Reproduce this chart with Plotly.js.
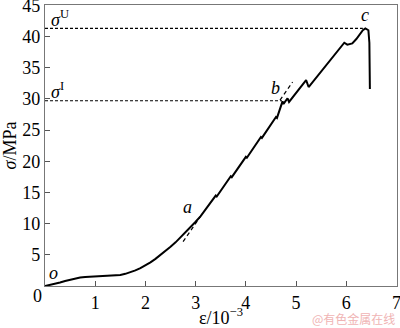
<!DOCTYPE html>
<html>
<head>
<meta charset="utf-8">
<script src="https://cdn.plot.ly/plotly-3.0.1.min.js"></script>
<style>html,body{margin:0;padding:0;background:#fff;}#chart{width:400px;height:328px;}</style>
</head>
<body>
<div id="chart"></div>
<script>
// Stress-strain curve (strain in 10^-3, stress in MPa)
const strain = [0, 0.1, 0.2, 0.3, 0.4, 0.5, 0.6, 0.7, 0.8, 0.9, 1.0, 1.1, 1.2, 1.3, 1.4, 1.5, 1.6, 1.7, 1.8, 1.9,
  2.0, 2.1, 2.2, 2.3, 2.4, 2.5, 2.6, 2.7, 2.8, 2.9, 3.0, 3.1,
  3.25, 3.4, 3.42, 3.55, 3.7, 3.72, 3.85, 4.0, 4.02, 4.15, 4.3, 4.32, 4.45, 4.6, 4.62, 4.7,
  4.73, 4.75, 4.83, 4.86, 5.2, 5.25, 5.96, 6.02, 6.12, 6.2, 6.33, 6.38, 6.44, 6.46, 6.47];
const stress = [0, 0.15, 0.35, 0.55, 0.8, 1.0, 1.2, 1.35, 1.45, 1.5, 1.55, 1.6, 1.62, 1.62, 1.65, 1.75, 1.95, 2.2, 2.5, 2.85,
  3.3, 3.8, 4.35, 4.95, 5.6, 6.3, 7.0, 7.8, 8.6, 9.45, 10.3, 11.2,
  12.8, 14.5, 14.35, 15.9, 17.6, 17.45, 19.0, 20.7, 20.55, 22.1, 23.9, 23.75, 25.3, 27.1, 26.95, 28.9,
  29.6, 29.2, 30.1, 29.5, 33.0, 31.9, 39.0, 38.7, 38.9, 39.6, 41.0, 41.3, 41.0, 39.0, 31.6];
// characteristic stresses
const sigmaU = 41.3;
const sigmaI = 29.7;
const sigmaUEnd = 6.33;
const sigmaIEnd = 4.72;
// tangent (dashed) segments
const tanA_x = [2.75, 3.1];
const tanA_y = [7.1, 11.2];
const tanB_x = [4.68, 4.93];
const tanB_y = [29.8, 32.7];
// ticks
const xTicks = [1, 2, 3, 4, 5, 6, 7];
const yTicks = [5, 10, 15, 20, 25, 30, 35, 40, 45];

const serif = '"Liberation Serif", serif';
const fs = 18;
const traces = [
  {x: [0, sigmaUEnd], y: [sigmaU, sigmaU], mode: 'lines', line: {color: '#000', width: 1.2, dash: '3px,2px'}, hoverinfo: 'skip'},
  {x: [0, sigmaIEnd], y: [sigmaI, sigmaI], mode: 'lines', line: {color: '#000', width: 1.2, dash: '3px,2px'}, hoverinfo: 'skip'},
  {x: tanA_x, y: tanA_y, mode: 'lines', line: {color: '#000', width: 1.2, dash: '4px,3px'}, hoverinfo: 'skip'},
  {x: tanB_x, y: tanB_y, mode: 'lines', line: {color: '#000', width: 1.2, dash: '4px,3px'}, hoverinfo: 'skip'},
  {x: strain, y: stress, mode: 'lines', line: {color: '#000', width: 2}}
];
const ann = (x, y, text, extra) => Object.assign({x: x, y: y, xref: 'x', yref: 'y', text: text, showarrow: false,
  font: {family: serif, size: fs, color: '#000'}}, extra || {});
const layout = {
  width: 400, height: 328,
  margin: {l: 45, r: 3, t: 5, b: 42},
  paper_bgcolor: '#fff', plot_bgcolor: '#fff',
  showlegend: false,
  xaxis: {range: [0, 7.01], tickvals: xTicks, ticks: 'inside', ticklen: 5, tickcolor: '#555', showgrid: false, zeroline: false,
    ticklabeloverflow: 'allow',
    showline: true, linecolor: '#777', linewidth: 1.2, mirror: true, tickfont: {family: serif, size: fs, color: '#000'},
    title: {text: 'ε/10<sup>−3</sup>', font: {family: serif, size: fs, color: '#000'}, standoff: 0}},
  yaxis: {range: [0, 45.05], tickvals: yTicks, ticks: 'inside', ticklen: 5, tickcolor: '#555', showgrid: false, zeroline: false,
    ticklabeloverflow: 'allow',
    showline: true, linecolor: '#777', linewidth: 1.2, mirror: true, tickfont: {family: serif, size: fs, color: '#000'},
    title: {text: '<i>σ</i>/MPa', font: {family: serif, size: fs, color: '#000'}, standoff: 2}},
  annotations: [
    ann(0.08, 42.9, '<i>σ</i><sup>U</sup>', {xanchor: 'left'}),
    ann(0.08, 31.4, '<i>σ</i><sup>I</sup>', {xanchor: 'left'}),
    ann(2.84, 12.6, '<i>a</i>'),
    ann(4.6, 31.8, '<i>b</i>'),
    ann(6.38, 43.4, '<i>c</i>'),
    ann(0.16, 2.1, '<i>o</i>'),
    {x: 0, y: 0, xref: 'x', yref: 'y', text: '0', showarrow: false, xanchor: 'right', yanchor: 'top', xshift: -1, yshift: 2,
      font: {family: serif, size: fs, color: '#000'}},
    {x: 1, y: 0, xref: 'paper', yref: 'paper', text: '@有色金属在线', showarrow: false, xanchor: 'right', yanchor: 'top', yshift: -22,
      font: {family: 'Noto Sans CJK SC, sans-serif', size: 12, color: '#f0b4b4'}}
  ]
};
Plotly.newPlot('chart', traces, layout, {displayModeBar: false, staticPlot: true});
</script>
</body>
</html>
